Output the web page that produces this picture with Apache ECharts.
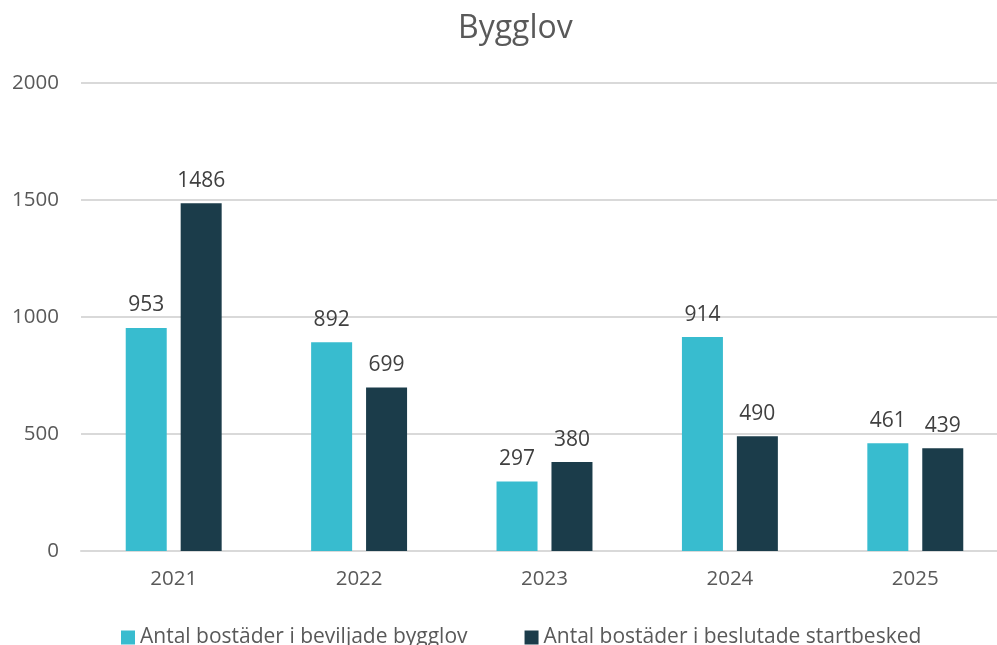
<!DOCTYPE html>
<html>
<head>
    <meta charset="utf-8">
    <title>Bygglov</title>
    <script src="https://cdn.jsdelivr.net/npm/echarts@6/dist/echarts.min.js"></script>
</head>
<body style="margin:0;overflow:hidden">
    <!-- plot area in the original runs a little past the right edge -->
    <div id="main" style="width: 1008px;height:645px;"></div>
<script type="text/javascript">
var years = ['2021', '2022', '2023', '2024', '2025'];
var bygglov = [953, 892, 297, 914, 461];
var startbesked = [1486, 699, 380, 490, 439];
var seriesNames = ['Antal bostäder i beviljade bygglov', 'Antal bostäder i beslutade startbesked'];

var myChart = echarts.init(document.getElementById('main'));
var font = 'Open Sans';

var option = {
    title: {
        text: 'Bygglov',
        left: 453,
        top: 8,
        textStyle: { fontFamily: font, fontSize: 32, fontWeight: 'normal', color: '#595959' }
    },
    legend: {
        bottom: -8,
        left: 116,
        itemWidth: 14,
        itemHeight: 14,
        itemGap: 57,
        icon: 'rect',
        textStyle: { fontFamily: font, fontSize: 21, color: '#595959' },
        data: seriesNames
    },
    grid: { left: 81, right: 0, top: 83, bottom: 94, containLabel: false },
    xAxis: {
        type: 'category',
        data: years,
        axisLine: { lineStyle: { color: '#D9D9D9', width: 2 } },
        axisTick: { show: false },
        axisLabel: { fontFamily: font, fontSize: 20.5, color: '#595959', margin: 18 }
    },
    yAxis: {
        type: 'value',
        min: 0,
        max: 2000,
        interval: 500,
        splitLine: { lineStyle: { color: '#D9D9D9', width: 2 } },
        axisLabel: {
            fontFamily: font, fontSize: 20.5, color: '#595959', margin: 22,
            formatter: function (v) { return String(v); }
        }
    },
    series: [
        {
            name: seriesNames[0],
            type: 'bar',
            barWidth: 41,
            barGap: '34%',
            itemStyle: { color: '#38BCCF' },
            label: { show: true, position: 'top', distance: 12, fontFamily: font, fontSize: 21, color: '#404040' },
            data: bygglov
        },
        {
            name: seriesNames[1],
            type: 'bar',
            barWidth: 41,
            itemStyle: { color: '#1B3C4A' },
            label: { show: true, position: 'top', distance: 12, fontFamily: font, fontSize: 21, color: '#404040' },
            data: startbesked
        }
    ]
};

myChart.setOption(option);
</script>
</body>
</html>
